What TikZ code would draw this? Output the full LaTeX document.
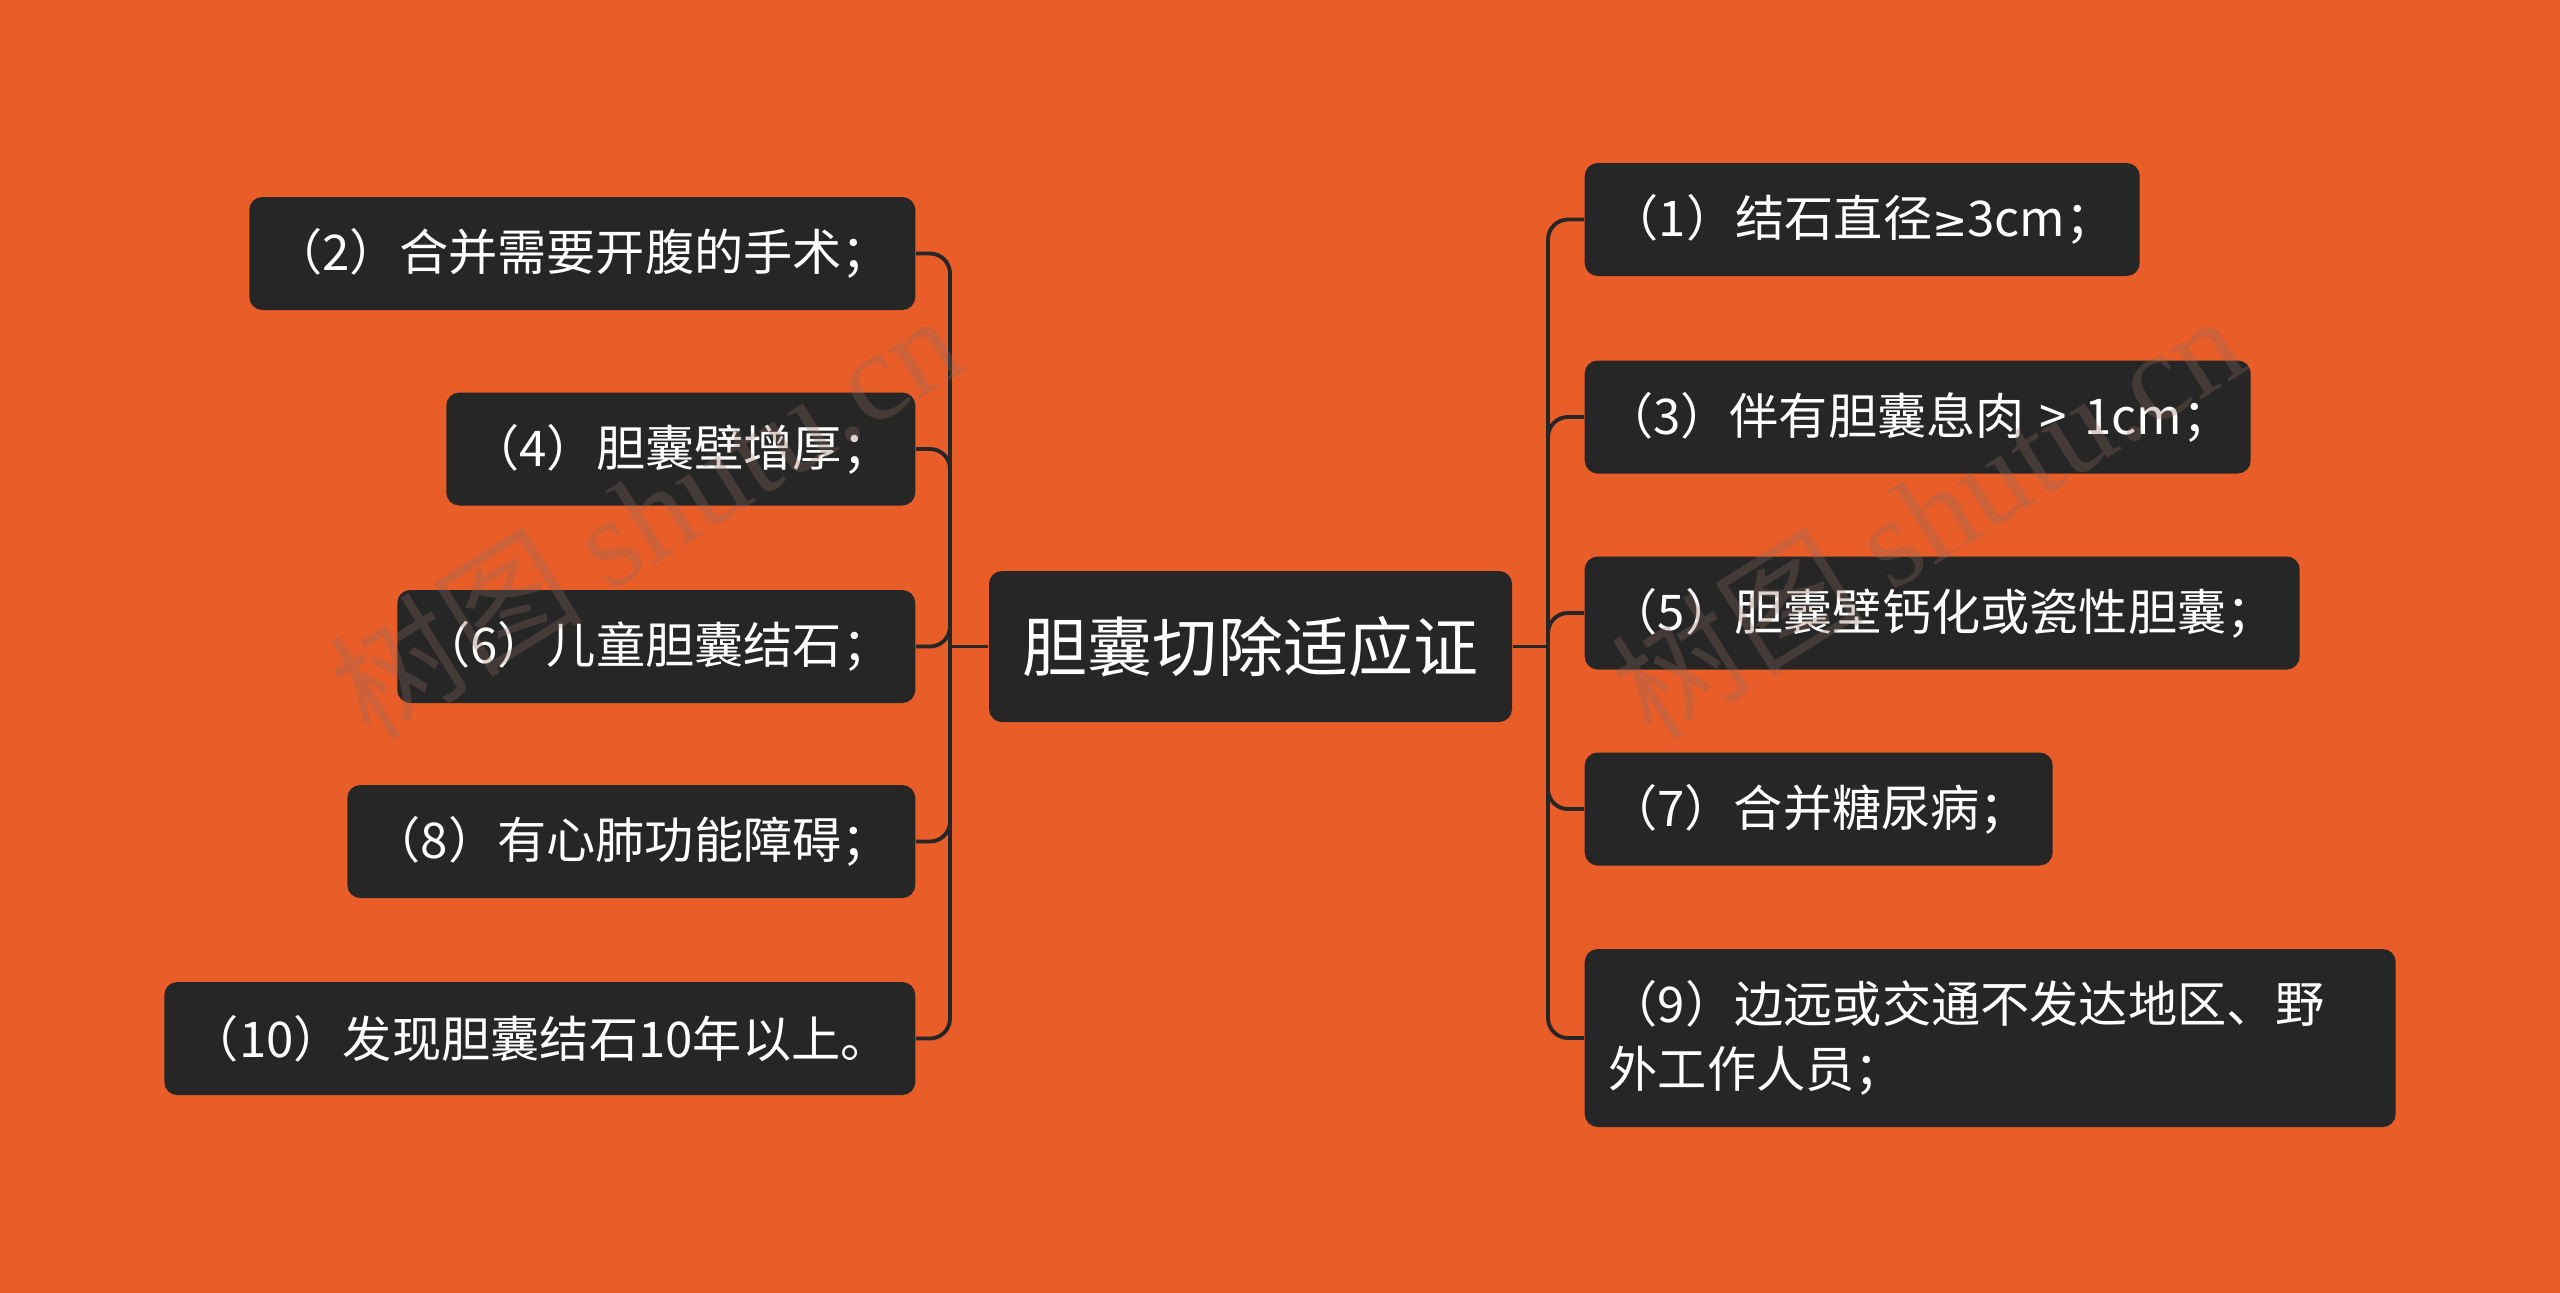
\documentclass[tikz,border=0pt]{standalone}
\usepackage{fontspec}
\setmainfont{Noto Sans CJK SC}
\newfontfamily\wmfont{Liberation Serif}
\newfontfamily\symfont{DejaVu Sans}
\definecolor{bgorange}{HTML}{E95D29}
\definecolor{boxgray}{HTML}{262626}
\definecolor{wmgray}{HTML}{8A6A60}
\tikzset{
  leafbox/.style={fill=boxgray,text=white,rounded corners=0.13cm,
    inner sep=0pt,align=center,minimum height=1.13cm,
    font=\fontsize{14}{18.5}\selectfont},
  rootbox/.style={leafbox,minimum width=5.23cm,minimum height=1.51cm,
    font=\fontsize{18.5}{22}\selectfont},
  link/.style={draw=boxgray,line width=1.1pt,rounded corners=0.2cm},
  wmark/.style={text=wmgray,text opacity=0.3,rotate=32,
    font=\fontsize{36}{40}\selectfont}
}

\begin{document}
\begin{tikzpicture}

\useasboundingbox (0,0) rectangle (25.6,-12.93);
\fill[bgorange] (0,0) rectangle (25.6,-12.93);

% Root
\node[rootbox] (root) at (12.505,-6.465) {胆囊切除适应证};

% Trunk joints
\coordinate (lj) at (9.50,-6.465);
\coordinate (rj) at (15.48,-6.465);

% Left side
\node[leafbox,anchor=east,minimum width=6.66cm] (n2) at (9.16,-2.535)
  {（2）合并需要开腹的手术；};
\node[leafbox,anchor=east,minimum width=4.69cm] (n4) at (9.16,-4.49)
  {（4）胆囊壁增厚；};
\node[leafbox,anchor=east,minimum width=5.18cm] (n6) at (9.16,-6.465)
  {（6）儿童胆囊结石；};
\node[leafbox,anchor=east,minimum width=5.68cm] (n8) at (9.16,-8.415)
  {（8）有心肺功能障碍；};
\node[leafbox,anchor=east,minimum width=7.51cm] (n10) at (9.16,-10.385)
  {（10）发现胆囊结石10年以上。};

% Right side
\node[leafbox,anchor=west,minimum width=5.55cm] (n1) at (15.84,-2.195)
  {（1）结石直径{\symfont\fontsize{12}{14}\selectfont ≥}3cm；};
\node[leafbox,anchor=west,minimum width=6.66cm] (n3) at (15.84,-4.17)
  {（3）伴有胆囊息肉\hspace{0.3em}>\hspace{0.35em}1cm；};
\node[leafbox,anchor=west,minimum width=7.15cm] (n5) at (15.84,-6.13)
  {（5）胆囊壁钙化或瓷性胆囊；};
\node[leafbox,anchor=west,minimum width=4.68cm] (n7) at (15.84,-8.09)
  {（7）合并糖尿病；};
\node[leafbox,anchor=west,minimum width=8.11cm,minimum height=1.78cm,
  align=left,text width=7.63cm] (n9) at (15.84,-10.38)
  {（9）边远或交通不发达地区、野\\外工作人员；};

% Links
\draw[link] (root.west) -- (lj);
\draw[link] (root.east) -- (rj);
\foreach \n in {n2,n4,n6,n8,n10}
  \draw[link] (lj) |- (\n.east);
\foreach \n in {n1,n3,n5,n7,n9}
  \draw[link] (rj) |- (\n.west);

% Watermark
\node[wmark] (wm1) at (6.45,-5.14) {树图 {\wmfont shutu.cn}};
\node[wmark] (wm2) at (19.27,-5.14) {树图 {\wmfont shutu.cn}};
\end{tikzpicture}
\end{document}
